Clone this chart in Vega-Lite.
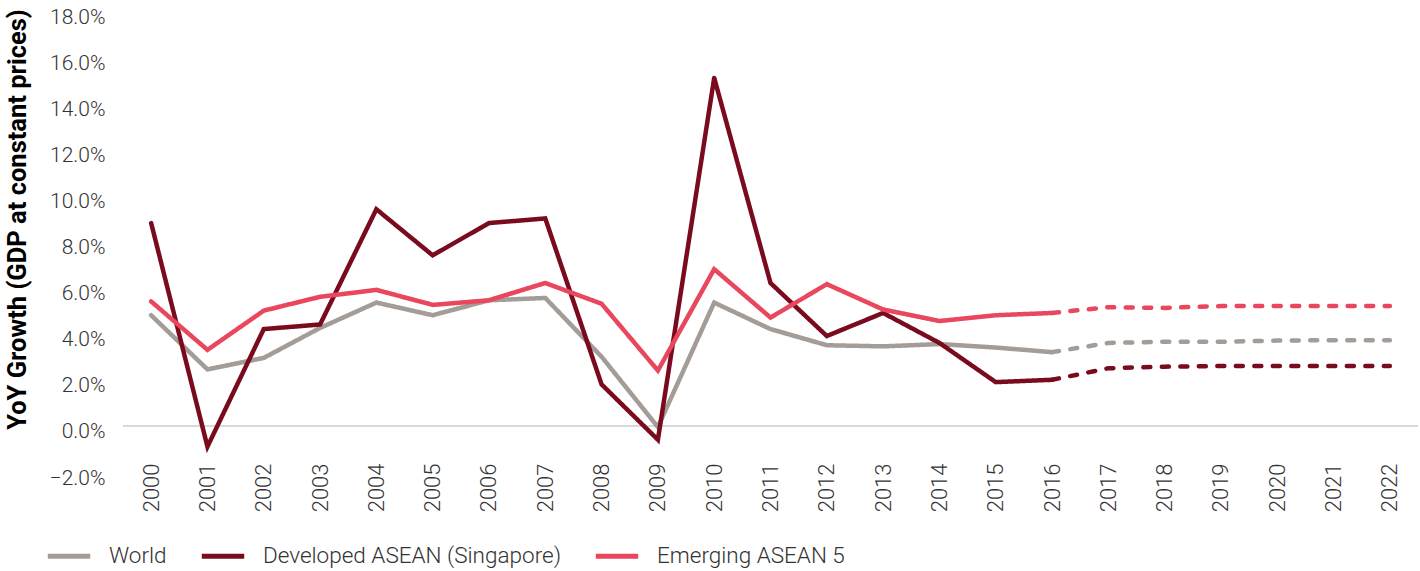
{
  "$schema": "https://vega.github.io/schema/vega-lite/v6.json",
  "width": 1295,
  "height": 461,
  "autosize": {"type": "none"},
  "padding": {"left": 123, "top": 11, "right": 2, "bottom": 99},
  "background": "white",
  "config": {
    "view": {"stroke": null},
    "font": "Roboto",
    "axis": {"labelFont": "Roboto", "labelFontWeight": 300, "labelColor": "#333333", "labelFontSize": 21, "domain": false, "ticks": false, "grid": false},
    "legend": {"labelFont": "Roboto", "labelFontWeight": 300, "labelColor": "#333333", "labelFontSize": 22.5, "labelLimit": 500}
  },
  "data": {"values": [
    {"year": "2000", "series": "World", "phase": "actual", "value": 4.8},
    {"year": "2001", "series": "World", "phase": "actual", "value": 2.45},
    {"year": "2002", "series": "World", "phase": "actual", "value": 2.95},
    {"year": "2003", "series": "World", "phase": "actual", "value": 4.25},
    {"year": "2004", "series": "World", "phase": "actual", "value": 5.35},
    {"year": "2005", "series": "World", "phase": "actual", "value": 4.8},
    {"year": "2006", "series": "World", "phase": "actual", "value": 5.45},
    {"year": "2007", "series": "World", "phase": "actual", "value": 5.55},
    {"year": "2008", "series": "World", "phase": "actual", "value": 3.0},
    {"year": "2009", "series": "World", "phase": "actual", "value": -0.05},
    {"year": "2010", "series": "World", "phase": "actual", "value": 5.35},
    {"year": "2011", "series": "World", "phase": "actual", "value": 4.2},
    {"year": "2012", "series": "World", "phase": "actual", "value": 3.5},
    {"year": "2013", "series": "World", "phase": "actual", "value": 3.45},
    {"year": "2014", "series": "World", "phase": "actual", "value": 3.55},
    {"year": "2015", "series": "World", "phase": "actual", "value": 3.4},
    {"year": "2016", "series": "World", "phase": "actual", "value": 3.2},
    {"year": "2016", "series": "World", "phase": "forecast", "value": 3.2},
    {"year": "2017", "series": "World", "phase": "forecast", "value": 3.6},
    {"year": "2018", "series": "World", "phase": "forecast", "value": 3.65},
    {"year": "2019", "series": "World", "phase": "forecast", "value": 3.65},
    {"year": "2020", "series": "World", "phase": "forecast", "value": 3.7},
    {"year": "2021", "series": "World", "phase": "forecast", "value": 3.72},
    {"year": "2022", "series": "World", "phase": "forecast", "value": 3.72},
    {"year": "2000", "series": "Developed ASEAN (Singapore)", "phase": "actual", "value": 8.8},
    {"year": "2001", "series": "Developed ASEAN (Singapore)", "phase": "actual", "value": -0.9},
    {"year": "2002", "series": "Developed ASEAN (Singapore)", "phase": "actual", "value": 4.2},
    {"year": "2003", "series": "Developed ASEAN (Singapore)", "phase": "actual", "value": 4.4},
    {"year": "2004", "series": "Developed ASEAN (Singapore)", "phase": "actual", "value": 9.4},
    {"year": "2005", "series": "Developed ASEAN (Singapore)", "phase": "actual", "value": 7.4},
    {"year": "2006", "series": "Developed ASEAN (Singapore)", "phase": "actual", "value": 8.8},
    {"year": "2007", "series": "Developed ASEAN (Singapore)", "phase": "actual", "value": 9.0},
    {"year": "2008", "series": "Developed ASEAN (Singapore)", "phase": "actual", "value": 1.8},
    {"year": "2009", "series": "Developed ASEAN (Singapore)", "phase": "actual", "value": -0.6},
    {"year": "2010", "series": "Developed ASEAN (Singapore)", "phase": "actual", "value": 15.1},
    {"year": "2011", "series": "Developed ASEAN (Singapore)", "phase": "actual", "value": 6.2},
    {"year": "2012", "series": "Developed ASEAN (Singapore)", "phase": "actual", "value": 3.9},
    {"year": "2013", "series": "Developed ASEAN (Singapore)", "phase": "actual", "value": 4.9},
    {"year": "2014", "series": "Developed ASEAN (Singapore)", "phase": "actual", "value": 3.6},
    {"year": "2015", "series": "Developed ASEAN (Singapore)", "phase": "actual", "value": 1.9},
    {"year": "2016", "series": "Developed ASEAN (Singapore)", "phase": "actual", "value": 2.0},
    {"year": "2016", "series": "Developed ASEAN (Singapore)", "phase": "forecast", "value": 2.0},
    {"year": "2017", "series": "Developed ASEAN (Singapore)", "phase": "forecast", "value": 2.5},
    {"year": "2018", "series": "Developed ASEAN (Singapore)", "phase": "forecast", "value": 2.57},
    {"year": "2019", "series": "Developed ASEAN (Singapore)", "phase": "forecast", "value": 2.6},
    {"year": "2020", "series": "Developed ASEAN (Singapore)", "phase": "forecast", "value": 2.6},
    {"year": "2021", "series": "Developed ASEAN (Singapore)", "phase": "forecast", "value": 2.6},
    {"year": "2022", "series": "Developed ASEAN (Singapore)", "phase": "forecast", "value": 2.6},
    {"year": "2000", "series": "Emerging ASEAN 5", "phase": "actual", "value": 5.4},
    {"year": "2001", "series": "Emerging ASEAN 5", "phase": "actual", "value": 3.3},
    {"year": "2002", "series": "Emerging ASEAN 5", "phase": "actual", "value": 5.0},
    {"year": "2003", "series": "Emerging ASEAN 5", "phase": "actual", "value": 5.6},
    {"year": "2004", "series": "Emerging ASEAN 5", "phase": "actual", "value": 5.9},
    {"year": "2005", "series": "Emerging ASEAN 5", "phase": "actual", "value": 5.25},
    {"year": "2006", "series": "Emerging ASEAN 5", "phase": "actual", "value": 5.45},
    {"year": "2007", "series": "Emerging ASEAN 5", "phase": "actual", "value": 6.2},
    {"year": "2008", "series": "Emerging ASEAN 5", "phase": "actual", "value": 5.3},
    {"year": "2009", "series": "Emerging ASEAN 5", "phase": "actual", "value": 2.4},
    {"year": "2010", "series": "Emerging ASEAN 5", "phase": "actual", "value": 6.8},
    {"year": "2011", "series": "Emerging ASEAN 5", "phase": "actual", "value": 4.7},
    {"year": "2012", "series": "Emerging ASEAN 5", "phase": "actual", "value": 6.15},
    {"year": "2013", "series": "Emerging ASEAN 5", "phase": "actual", "value": 5.05},
    {"year": "2014", "series": "Emerging ASEAN 5", "phase": "actual", "value": 4.55},
    {"year": "2015", "series": "Emerging ASEAN 5", "phase": "actual", "value": 4.8},
    {"year": "2016", "series": "Emerging ASEAN 5", "phase": "actual", "value": 4.9},
    {"year": "2016", "series": "Emerging ASEAN 5", "phase": "forecast", "value": 4.9},
    {"year": "2017", "series": "Emerging ASEAN 5", "phase": "forecast", "value": 5.15},
    {"year": "2018", "series": "Emerging ASEAN 5", "phase": "forecast", "value": 5.12},
    {"year": "2019", "series": "Emerging ASEAN 5", "phase": "forecast", "value": 5.2},
    {"year": "2020", "series": "Emerging ASEAN 5", "phase": "forecast", "value": 5.2},
    {"year": "2021", "series": "Emerging ASEAN 5", "phase": "forecast", "value": 5.2},
    {"year": "2022", "series": "Emerging ASEAN 5", "phase": "forecast", "value": 5.2}
  ]},
  "layer": [
    {
      "mark": {"type": "rule", "color": "#d9d9d9", "strokeWidth": 2},
      "encoding": {"y": {"datum": 0, "type": "quantitative"}}
    },
    {
      "mark": {"type": "line", "strokeWidth": 4.5, "strokeCap": "round", "strokeJoin": "miter"},
      "encoding": {
        "x": {
          "field": "year", "type": "ordinal",
          "scale": {"type": "point", "padding": 0.5},
          "axis": {"title": null, "labelAngle": -90, "labelAlign": "right", "labelBaseline": "middle", "labelPadding": -9, "labelFontSize": 22}
        },
        "y": {
          "field": "value", "type": "quantitative",
          "scale": {"domain": [-2, 18], "nice": false},
          "axis": {
            "title": "YoY Growth (GDP at constant prices)",
            "titleFont": "Roboto", "titleFontWeight": "bold", "titleFontSize": 25.5, "titleColor": "#000000",
            "titleX": -106, "titleY": 208, "titleBaseline": "middle", "titleAngle": -90,
            "values": [-2, 0, 2, 4, 6, 8, 10, 12, 14, 16, 18],
            "labelExpr": "format(datum.value, '.1f') + '%'",
            "labelPadding": 18, "labelOffset": 6
          }
        },
        "color": {
          "field": "series", "type": "nominal",
          "scale": {"domain": ["World", "Developed ASEAN (Singapore)", "Emerging ASEAN 5"], "range": ["#a49c96", "#7a0b1f", "#e8475e"]},
          "legend": {
            "title": null, "orient": "none", "direction": "horizontal",
            "legendX": -78, "legendY": 521,
            "symbolType": "stroke", "symbolSize": 1800, "symbolStrokeWidth": 5,
            "labelOffset": 16, "columnPadding": 24
          }
        },
        "strokeDash": {
          "field": "phase", "type": "nominal",
          "scale": {"domain": ["actual", "forecast"], "range": [[1, 0], [7, 11.5]]},
          "legend": null
        },
        "detail": {"field": "phase"}
      }
    }
  ]
}
